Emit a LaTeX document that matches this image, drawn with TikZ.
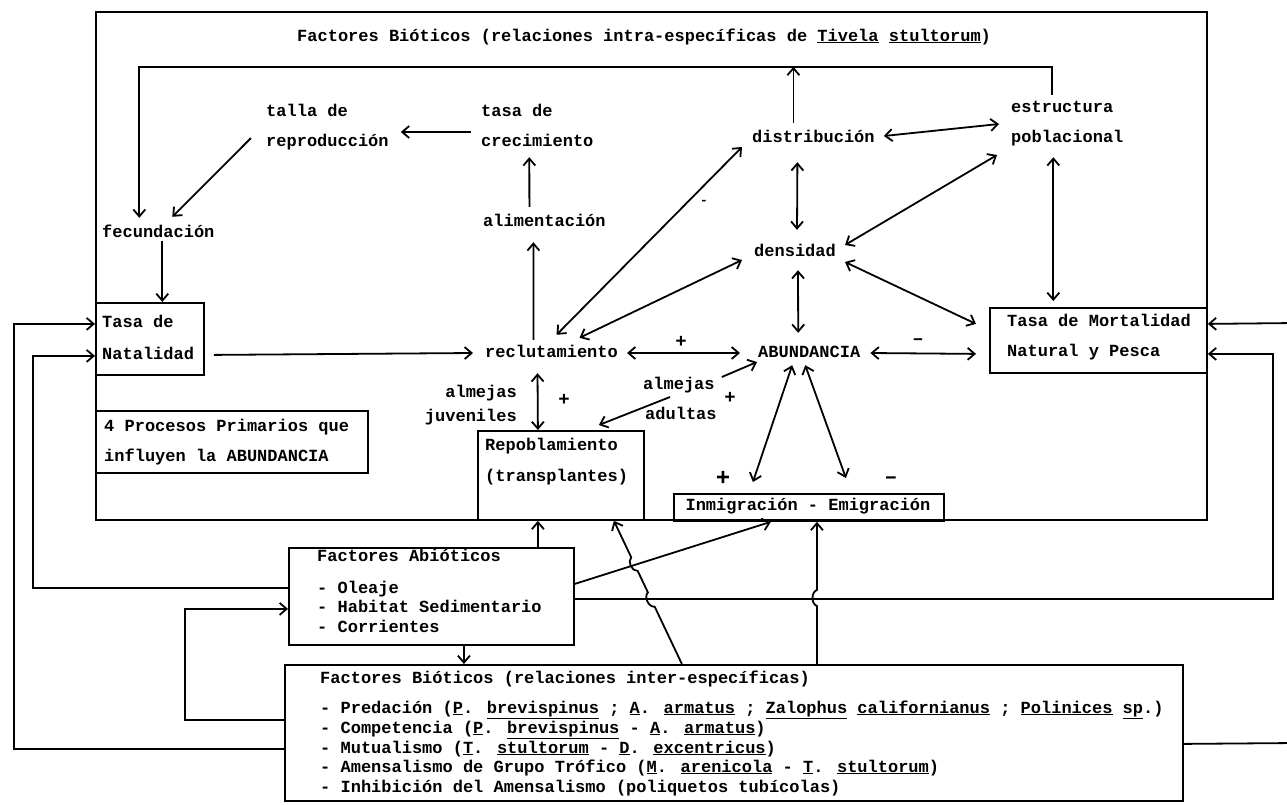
\documentclass[tikz,border=0pt]{standalone}
\usepackage{fontspec}
\newfontfamily\tw{Liberation Mono}
\usetikzlibrary{arrows.meta,calc}
\tikzset{
  lbl/.style={font=\tw\bfseries\fontsize{17}{20}\selectfont, inner sep=0pt, text height=12pt, text depth=4pt, anchor=west},
  sign/.style={font=\tw\bfseries\fontsize{19}{20}\selectfont, inner sep=0pt},
  box/.style={draw, line width=1.8pt, anchor=north west, inner sep=0pt},
  ln/.style={line width=1.8pt},
  arr/.style={line width=1.8pt, -{Straight Barb[length=7pt,width=12pt]}},
  darr/.style={line width=1.8pt, {Straight Barb[length=7pt,width=12pt]}-{Straight Barb[length=7pt,width=12pt]}}
}
\begin{document}
\begin{tikzpicture}[x=1pt,y=-1pt]
\useasboundingbox (0,0) rectangle (1287,804);
% boxes
\node[box, minimum width=1111pt, minimum height=508pt] (intra) at (95,11) {};
\node[box, minimum width=108pt, minimum height=72pt] (natal) at (95,302) {};
\node[box, minimum width=217pt, minimum height=65pt] (mort) at (989,307) {};
\node[box, minimum width=272pt, minimum height=62pt] (proc) at (95,410) {};
\node[box, minimum width=166pt, minimum height=89pt] (repob) at (477,430) {};
\node[box, minimum width=270pt, minimum height=27pt] (inmig) at (673,493) {};
\node[box, minimum width=285pt, minimum height=97pt] (abio) at (288,547) {};
\node[box, minimum width=898pt, minimum height=136pt] (bio) at (284,664) {};
% texts
\node[lbl] (title) at (297,37) {Factores Bióticos (relaciones intra-específicas de \underline{Tivela} \underline{stultorum})};
\node[lbl] (talla1) at (266,112) {talla de};
\node[lbl] (talla2) at (266,142) {reproducción};
\node[lbl] (tasac1) at (481,112) {tasa de};
\node[lbl] (tasac2) at (481,142) {crecimiento};
\node[lbl] (alim) at (483,222) {alimentación};
\node[lbl] (fecund) at (102,233) {fecundación};
\node[lbl] (distrib) at (752,138) {distribución};
\node[lbl] (estr1) at (1011,108) {estructura};
\node[lbl] (estr2) at (1011,138) {poblacional};
\node[lbl] (dens) at (754,252) {densidad};
\node[lbl] (reclut) at (485,353) {reclutamiento};
\node[lbl] (abund) at (758,353) {ABUNDANCIA};
\node[lbl] (natal1) at (102,323) {Tasa de};
\node[lbl] (natal2) at (102,355) {Natalidad};
\node[lbl] (mort1) at (1007,322) {Tasa de Mortalidad};
\node[lbl] (mort2) at (1007,352) {Natural y Pesca};
\node[lbl] (proc1) at (104,427) {4 Procesos Primarios que};
\node[lbl] (proc2) at (104,457) {influyen la ABUNDANCIA};
\node[lbl] (repob1) at (485,446) {Repoblamiento};
\node[lbl] (repob2) at (485,477) {(transplantes)};
\node[lbl, anchor=east] (alm1) at (517,393) {almejas};
\node[lbl, anchor=east] (juv) at (517,417) {juveniles};
\node[lbl] (alm2) at (643,385) {almejas};
\node[lbl] (adul) at (645,415) {adultas};
\node[lbl, anchor=center] (inmigt) at (808,506) {Inmigración - Emigración};
\node[lbl] (abio1) at (317,557) {Factores Abióticos};
\node[lbl] (abio2) at (317,589) {- Oleaje};
\node[lbl] (abio3) at (317,608) {- Habitat Sedimentario};
\node[lbl] (abio4) at (317,628) {- Corrientes};
\node[lbl] (bio1) at (320,679) {Factores Bióticos (relaciones inter-específicas)};
\node[lbl] (bio2) at (320,709) {- Predación (\underline{P}. \underline{brevispinus} ; \underline{A}. \underline{armatus} ; \underline{Zalophus} \underline{californianus} ; \underline{Polinices} \underline{sp}.)};
\node[lbl] (bio3) at (320,729) {- Competencia (\underline{P}. \underline{brevispinus} - \underline{A}. \underline{armatus})};
\node[lbl] (bio4) at (320,749) {- Mutualismo (\underline{T}. \underline{stultorum} - \underline{D}. \underline{excentricus})};
\node[lbl] (bio5) at (320,768) {- Amensalismo de Grupo Trófico (\underline{M}. \underline{arenicola} - \underline{T}. \underline{stultorum})};
\node[lbl] (bio6) at (320,788) {- Inhibición del Amensalismo (poliquetos tubícolas)};
% signs
\node[sign] (p1) at (681,342) {+};
\node[sign] (p2) at (564,400) {+};
\node[sign] (p3) at (730,398) {+};
\node[sign, font=\tw\bfseries\fontsize{24}{24}\selectfont] (p4) at (723,478) {+};
\node[sign] (m1) at (918,342) {–};
\node[sign, font=\tw\bfseries\fontsize{22}{24}\selectfont] (m2) at (891,480) {–};
\node[sign, font=\tw\bfseries\fontsize{13}{14}\selectfont] (m3) at (704,202) {-};
\coordinate (mtop) at ([yshift=6pt]mort.north);
% upper connectors
\draw[arr] ([xshift=-10pt,yshift=5pt]estr1.north) -- ++(0pt,28pt) -| ([xshift=-19pt,yshift=7pt]fecund.north);
\draw[arr] ([xshift=-20pt,yshift=7pt]distrib.north) -- ++(0pt,56pt);
\draw[arr] ([xshift=-10pt,yshift=10pt]tasac2.west) -- ([xshift=12pt,yshift=10pt]talla2.east);
\draw[arr] ([xshift=-15pt,yshift=4pt]talla2.west) -- ([xshift=14pt,yshift=8pt]fecund.north);
\draw[arr] ([xshift=4pt]fecund.south) -- ([xshift=4pt]fecund.south |- natal.north);
\draw[arr] ([xshift=-15pt,yshift=7pt]alim.north) -- ([xshift=-8pt,yshift=-7pt]tasac2.south);
\draw[arr] ([xshift=-18pt,yshift=5pt]reclut.north) -- ([xshift=-11pt,yshift=-12pt]alim.south);
\draw[darr] ([xshift=9pt,yshift=2pt]distrib.east) -- ([xshift=-12pt,yshift=-16pt]estr1.west);
\draw[darr] ([xshift=-16pt,yshift=-16pt]distrib.south) -- ([xshift=2pt,yshift=14pt]dens.north);
\draw[darr] ([xshift=-14pt,yshift=-17pt]estr2.west) -- ([xshift=9pt,yshift=7pt]dens.east);
\draw[darr] ([xshift=-14pt,yshift=-11pt]estr2.south) -- ([xshift=-14pt]estr2.south |- mtop);
\draw[darr] ([xshift=-10pt,yshift=-9pt]distrib.west) -- ([xshift=5pt,yshift=10pt]reclut.north);
\draw[darr] ([xshift=-12pt,yshift=-8pt]dens.west) -- ([xshift=28pt,yshift=7pt]reclut.north);
\draw[darr] ([xshift=3pt,yshift=-10pt]dens.south) -- ([xshift=-11pt,yshift=12pt]abund.north);
\draw[darr] ([xshift=9pt,yshift=-10pt]dens.east) -- ([xshift=-13pt,yshift=16.5pt]mort.west);
% main row
\draw[arr] ([xshift=9pt,yshift=-16pt]natal.east) -- ([xshift=-12pt]reclut.west);
\draw[darr] ([xshift=9pt]reclut.east) -- ([xshift=-18pt]abund.west);
\draw[darr] ([xshift=10pt]abund.east) -- ([xshift=-13pt,yshift=-13.5pt]mort.west);
\draw[darr] ([xshift=-14pt,yshift=-12pt]reclut.south) -- ([xshift=-23pt]repob.north);
\draw[arr] ([xshift=7pt,yshift=8pt]alm2.east) -- ([xshift=-1pt,yshift=-9pt]abund.west);
\draw[arr] ([xshift=25pt,yshift=18pt]adul.west) -- ([xshift=38pt,yshift=5pt]repob.north);
\draw[darr] ([xshift=-17pt,yshift=-4pt]abund.south) -- ([xshift=-56pt,yshift=11pt]inmig.north);
\draw[darr] ([xshift=-4pt,yshift=-4pt]abund.south) -- ([xshift=37pt,yshift=15pt]inmig.north);
% lower connectors
\draw[arr] ([xshift=106.5pt]abio.north) -- ([xshift=106.5pt]abio.north |- repob.south);
\draw[arr] ([yshift=12.5pt]abio.east) -- ([xshift=-38pt]inmig.south);
\draw[arr] ([yshift=-2.5pt]abio.east) -| ([xshift=65pt,yshift=-13.5pt]mort.east) -- ([yshift=-13.5pt]mort.east);
\draw[arr] ([xshift=32.5pt]abio.south) -- ([xshift=32.5pt]abio.south |- bio.north);
\draw[arr] ([yshift=13pt]bio.west) -- ++(-99pt,0pt) |- ([yshift=-12.5pt]abio.west);
\draw[arr] ([yshift=8.5pt]abio.west) -- ++(-255pt,0pt) |- ([yshift=-17pt]natal.west);
\draw[arr] ([yshift=-16pt]bio.west) -- ++(-270pt,0pt) |- ([yshift=15pt]natal.west);
\coordinate (edgeA) at (1295,743);
\coordinate (edgeB) at (1295,323);
\draw[ln] ([yshift=-11pt]bio.east) -- (edgeA);
\draw[arr] (edgeB) -- ([yshift=16.5pt]mort.east);
\coordinate (bS) at ([xshift=-52pt]bio.north);
\coordinate (bE) at ([xshift=53pt]repob.south);
\draw[arr] (bS) -- ($(bS)!0.40!(bE)$) to[bend left=70] ($(bS)!0.50!(bE)$) -- ($(bS)!0.65!(bE)$) to[bend left=70] ($(bS)!0.745!(bE)$) -- (bE);
\draw[arr] ([xshift=83pt]bio.north) -- ++(0pt,58pt) to[bend left=70] ++(0pt,16pt) -- ([xshift=8pt]inmig.south);
\end{tikzpicture}
\end{document}
